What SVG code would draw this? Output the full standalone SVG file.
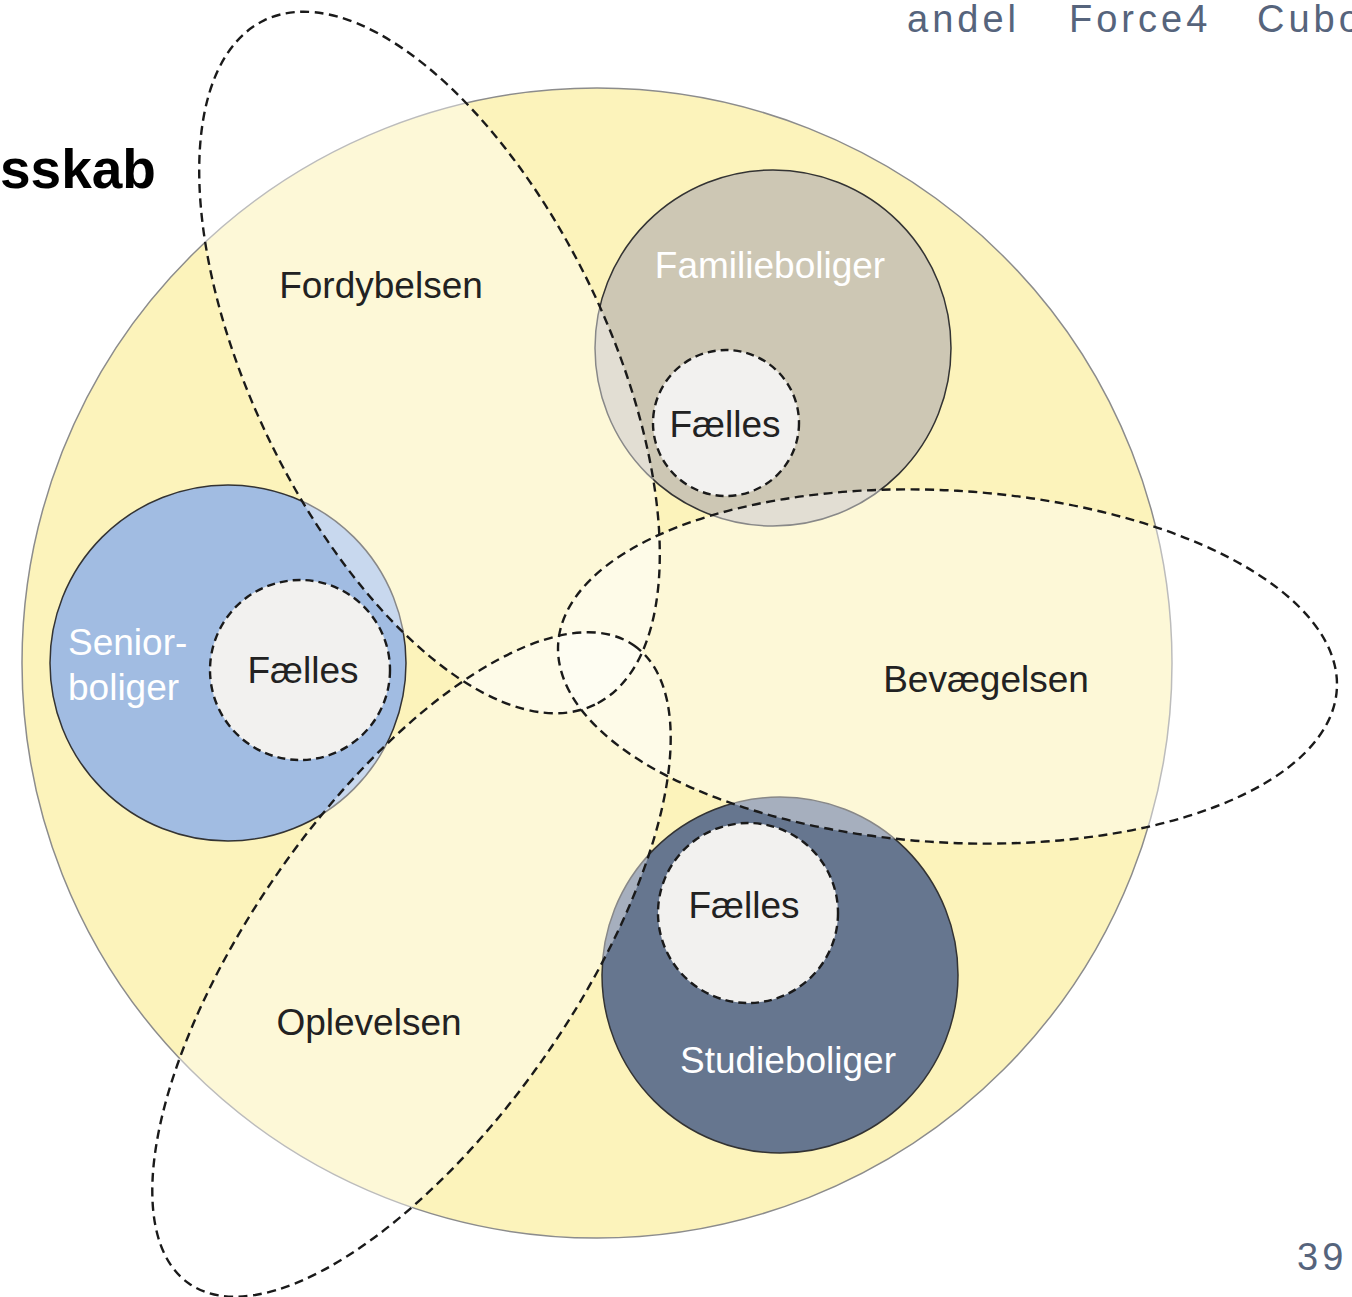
<svg xmlns="http://www.w3.org/2000/svg" width="1352" height="1297" viewBox="0 0 1352 1297">
<style>
.lbl{font-family:"Liberation Sans","Lato",Arial,sans-serif;font-size:37px;fill:#222}
.wh{fill:#ffffff}
.head{font-family:"Liberation Sans",Arial,sans-serif;font-weight:bold;font-size:55px;fill:#000}
.top{font-family:"Liberation Sans",Arial,sans-serif;font-size:38px;fill:#56647c;letter-spacing:4px}
.node{stroke:#333;stroke-width:1.5}
.zfill{fill:#ffffff;fill-opacity:0.42;stroke:none}
.zline{fill:none;stroke:#1a1a1a;stroke-width:2.4;stroke-dasharray:9 5.5}
.faelles{fill:#f2f1ef;stroke:#1a1a1a;stroke-width:2.4;stroke-dasharray:8 5}
</style>
<defs>
<ellipse id="e-ford" cx="0" cy="0" rx="380" ry="178" transform="translate(429.5 362.5) rotate(64.2)"/>
<ellipse id="e-bev" cx="0" cy="0" rx="390" ry="176" transform="translate(947.5 666.5) rotate(3.3)"/>
<ellipse id="e-opl" cx="0" cy="0" rx="389" ry="162" transform="translate(411.5 964.5) rotate(-55.1)"/>
</defs>
<rect width="1352" height="1297" fill="#ffffff"/>
<text class="head" x="0" y="188">sskab</text>
<g id="header">
<text class="top" x="907" y="32">andel</text>
<text class="top" x="1069" y="32">Force4</text>
<text class="top" x="1257" y="32">Cubo</text>
</g>
<g id="faellesskab">
<circle cx="597" cy="663" r="575" fill="#fcf3bb" stroke="#8c8c8c" stroke-width="1.5"/>
</g>
<g id="familieboliger">
<circle class="node" cx="773" cy="348" r="178" fill="#cdc7b4"/>
</g>
<g id="seniorboliger">
<circle class="node" cx="228" cy="663" r="178" fill="#a1bce2"/>
</g>
<g id="studieboliger">
<circle class="node" cx="780" cy="975" r="178" fill="#66768f"/>
</g>
<g id="zones">
<use href="#e-ford" class="zfill"/>
<use href="#e-bev" class="zfill"/>
<use href="#e-opl" class="zfill"/>
<use href="#e-ford" class="zline"/>
<use href="#e-bev" class="zline"/>
<use href="#e-opl" class="zline"/>
</g>
<g id="faelles-familie"><circle class="faelles" cx="726" cy="423" r="73"/><text class="lbl" x="725" y="437" text-anchor="middle" fill="#111">Fælles</text></g>
<g id="faelles-senior"><circle class="faelles" cx="300" cy="670" r="90"/><text class="lbl" x="303" y="683" text-anchor="middle">Fælles</text></g>
<g id="faelles-studie"><circle class="faelles" cx="748" cy="913" r="90"/><text class="lbl" x="744" y="918" text-anchor="middle">Fælles</text></g>
<g id="labels">
<text class="lbl" x="381" y="298" text-anchor="middle">Fordybelsen</text>
<text class="lbl wh" x="770" y="278" text-anchor="middle">Familieboliger</text>
<text class="lbl wh" x="68" y="655">Senior-</text>
<text class="lbl wh" x="68" y="700">boliger</text>
<text class="lbl" x="986" y="692" text-anchor="middle">Bevægelsen</text>
<text class="lbl" x="369" y="1035" text-anchor="middle">Oplevelsen</text>
<text class="lbl wh" x="788" y="1073" text-anchor="middle">Studieboliger</text>
</g>
<text class="top" x="1297" y="1270">39</text>
</svg>
